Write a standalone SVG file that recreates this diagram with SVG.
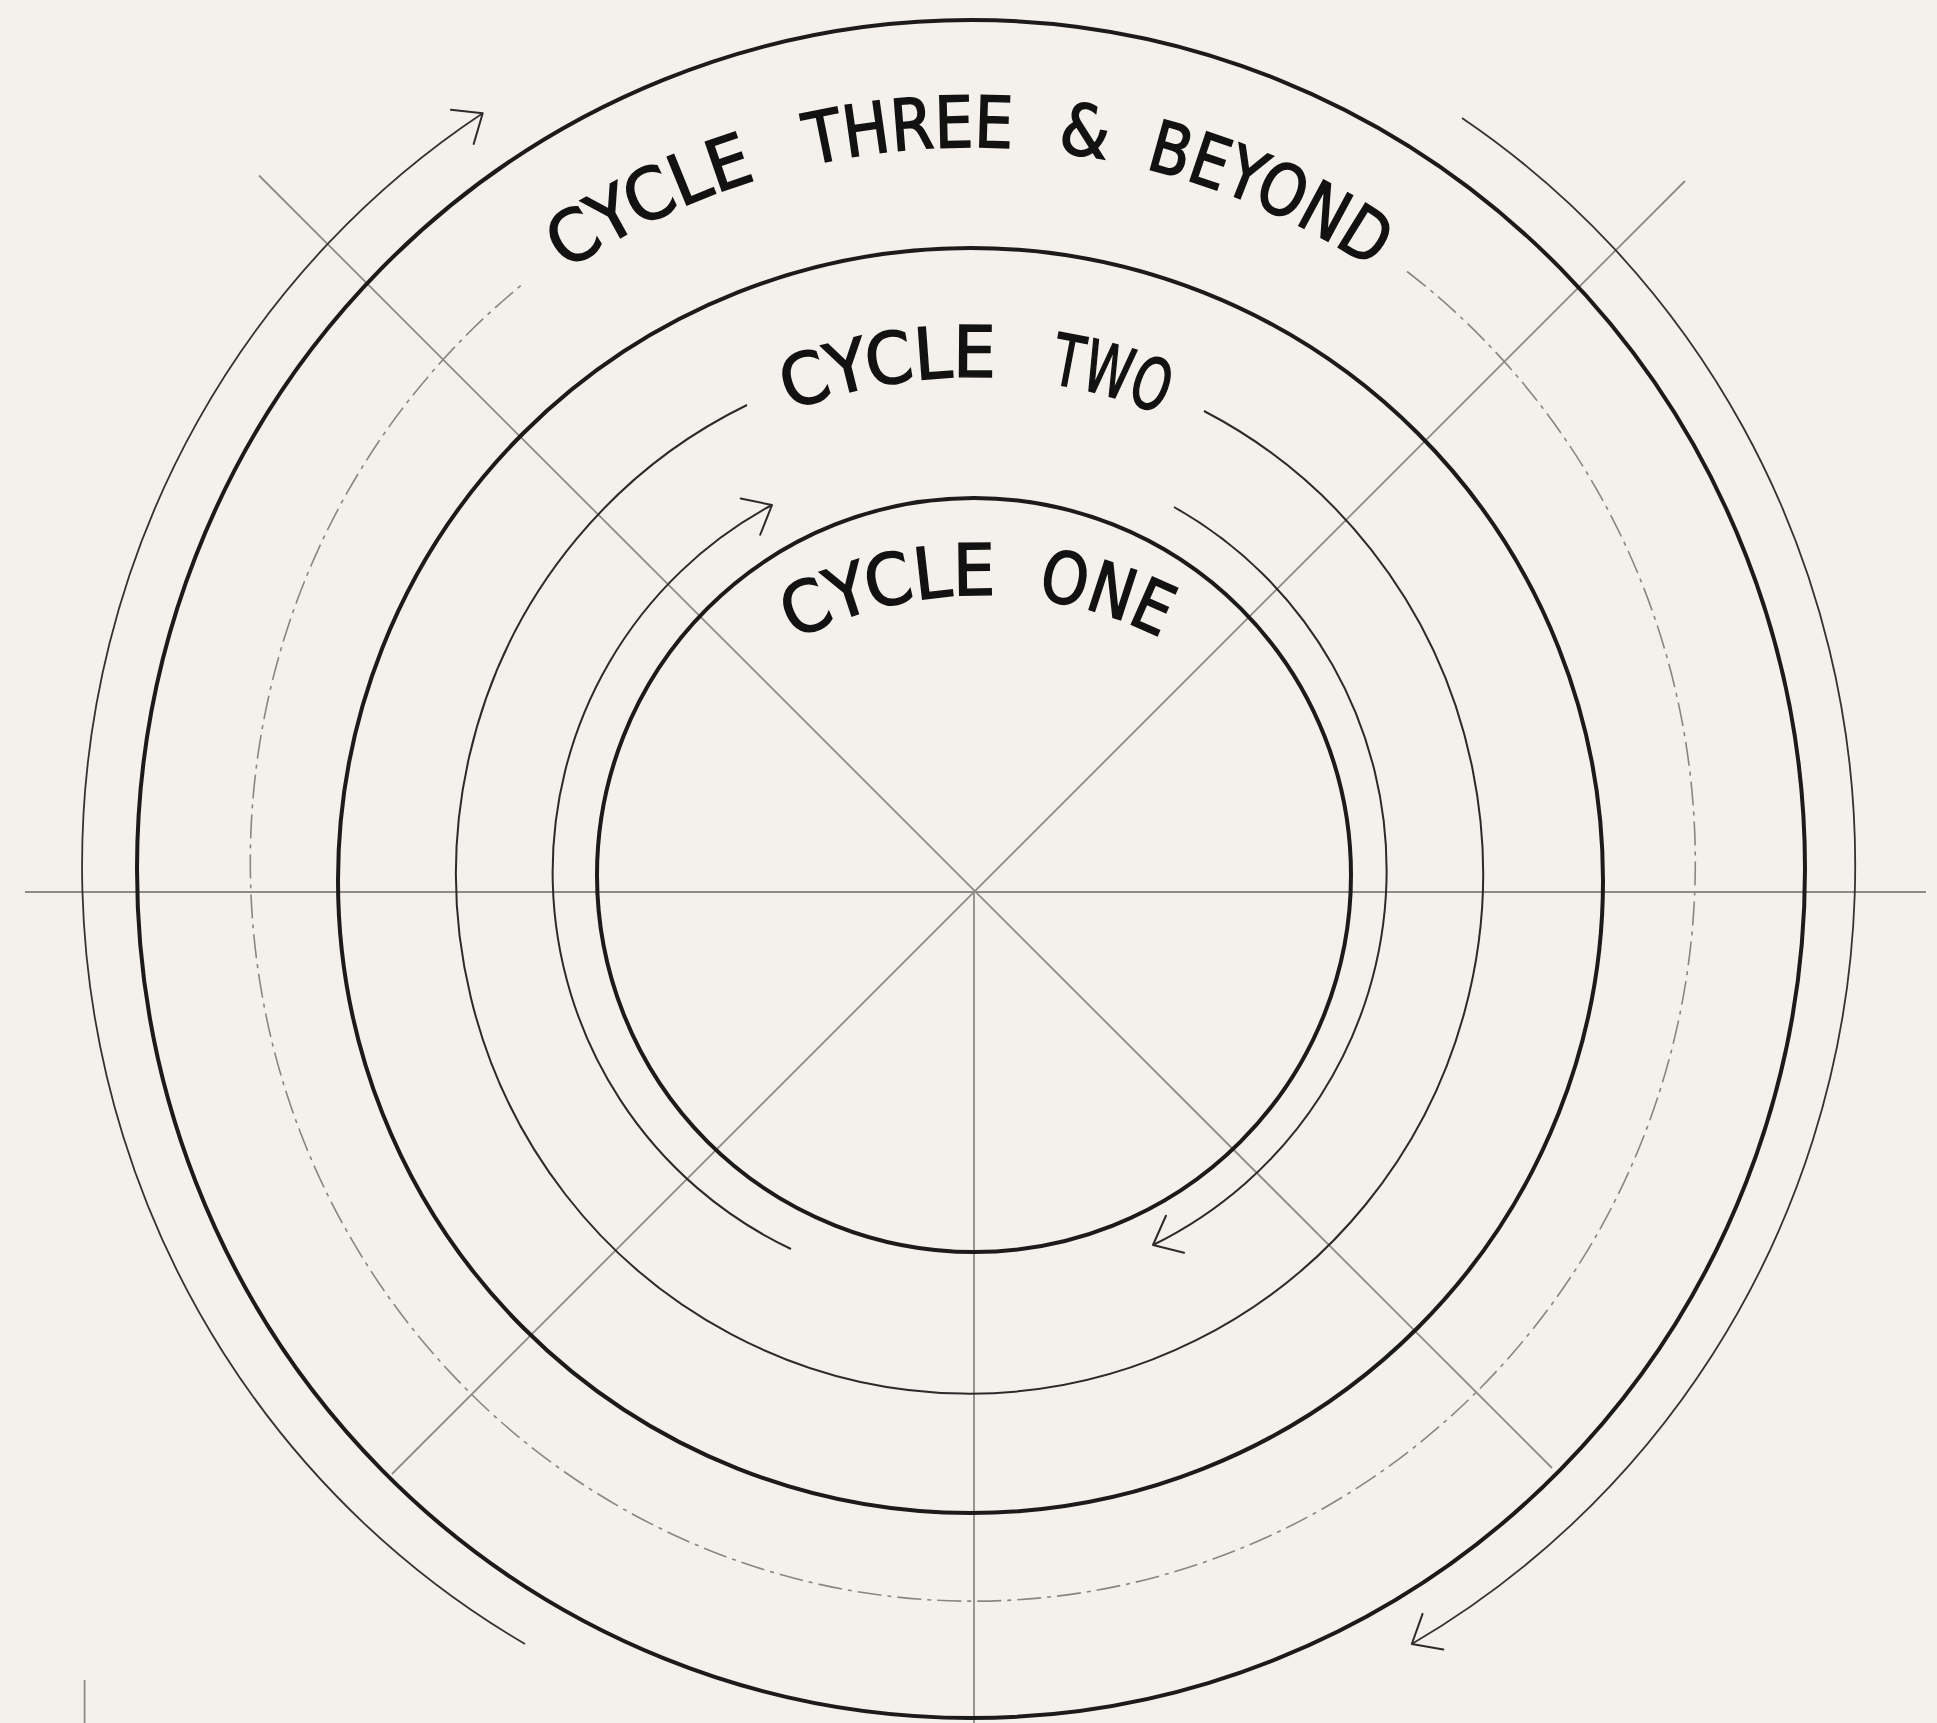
<svg xmlns="http://www.w3.org/2000/svg" width="1937" height="1723" viewBox="0 0 1937 1723">
<defs>
<style>
.guide{stroke:#8e8a85;stroke-width:1.8;fill:none}
.thick{stroke:#1b1b1b;stroke-width:4;fill:none}
.thin{stroke:#2b2b2b;stroke-width:2;fill:none}
.outer{stroke:#333333;stroke-width:1.8;fill:none}
.dash{stroke:#8a8580;stroke-width:1.6;fill:none;stroke-dasharray:24 6 4 6}
.arrow{marker-end:url(#arr)}
.lbl{font-family:"DejaVu Sans Condensed","DejaVu Sans","Liberation Sans",sans-serif;font-stretch:condensed;font-size:71px;fill:#121212;stroke:#121212;stroke-width:1.6;text-anchor:middle}
</style>
<marker id="arr" markerUnits="userSpaceOnUse" markerWidth="50" markerHeight="60" viewBox="-40 -30 50 60" refX="0" refY="0" orient="auto" overflow="visible">
<path d="M-24.5,-20.6 L0,0 L-24.5,20.6" fill="none" stroke="#2b2b2b" stroke-width="2" stroke-linecap="round" stroke-linejoin="round"/>
</marker>
<path id="t1" d="M248,870 A723,723 0 0 1 1694,870"/>
<path id="t2" d="M471,877 A500,500 0 0 1 1471,877"/>
<path id="t3" d="M577,998 A403,403 0 0 1 1383,998"/>
</defs>
<rect width="1937" height="1723" fill="#f4f1ec"/>
<g id="connectors">
<line class="guide" x1="25" y1="892" x2="1926" y2="892"/>
<line class="guide" x1="974" y1="892" x2="974" y2="1723"/>
<line class="guide" x1="259" y1="175.5" x2="1552" y2="1468"/>
<line class="guide" x1="1685" y1="181" x2="392" y2="1474"/>
<line class="guide" x1="84.6" y1="1680" x2="84.6" y2="1723"/>
</g>
<g id="ring-outer">
<path class="outer arrow" d="M525,1644 A883,898 0 0 1 482.7,113.3"/>
<path class="outer arrow" d="M1462,118 A883,898 0 0 1 1411.8,1644"/>
<ellipse class="thick" cx="971" cy="869" rx="834" ry="849"/>
</g>
<g id="ring-three">
<path class="dash" d="M1407,271.5 A722.5,739 0 1 1 521.6,285"/>
<text class="lbl"><textPath href="#t1" startOffset="812" textLength="212" lengthAdjust="spacingAndGlyphs">CYCLE</textPath></text>
<text class="lbl"><textPath href="#t1" startOffset="1075.1" textLength="204" lengthAdjust="spacingAndGlyphs">THREE</textPath></text>
<text class="lbl"><textPath href="#t1" startOffset="1246.8">&amp;</textPath></text>
<text class="lbl"><textPath href="#t1" startOffset="1436" textLength="250" lengthAdjust="spacingAndGlyphs">BEYOND</textPath></text>
</g>
<g id="ring-two">
<circle class="thick" cx="970.5" cy="880.5" r="632.5"/>
<path class="thin" d="M1204,411 A513.5,520 0 1 1 747,405"/>
<text class="lbl"><textPath href="#t2" startOffset="705" textLength="210" lengthAdjust="spacingAndGlyphs">CYCLE</textPath></text>
<text class="lbl"><textPath href="#t2" startOffset="922" textLength="116" lengthAdjust="spacingAndGlyphs">TWO</textPath></text>
</g>
<g id="ring-one">
<path class="thin arrow" d="M791,1249 A417,417 0 0 1 772,505"/>
<path class="thin arrow" d="M1174,507 A417,417 0 0 1 1153,1245"/>
<circle class="thick" cx="974" cy="875" r="377"/>
<text class="lbl"><textPath href="#t3" startOffset="544" textLength="208" lengthAdjust="spacingAndGlyphs">CYCLE</textPath></text>
<text class="lbl"><textPath href="#t3" startOffset="755" textLength="130" lengthAdjust="spacingAndGlyphs">ONE</textPath></text>
</g>
</svg>
